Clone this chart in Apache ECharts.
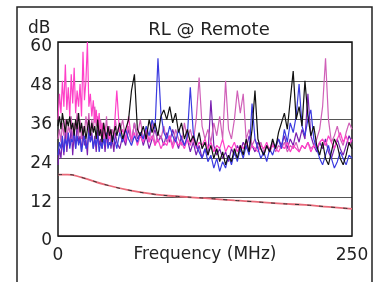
<!DOCTYPE html>
<html>
<head>
<meta charset="utf-8">
<script src="https://cdn.jsdelivr.net/npm/echarts@6/dist/echarts.min.js"></script>
<style>
  html, body { margin: 0; padding: 0; background: #fff; }
  #chart { width: 378px; height: 282px; }
</style>
</head>
<body>
<div id="chart"></div>
<script>
// frequency points (MHz), finer at the low end
const freq = [
  0, 1.25, 2.5, 3.75, 5, 6.25, 7.5, 8.75, 10, 11.25,
  12.5, 13.75, 15, 16.25, 17.5, 18.75, 20, 21.25, 22.5, 23.75,
  25, 26.25, 27.5, 28.75, 30, 31.25, 32.5, 33.75, 35, 36.25,
  37.5, 38.75, 40, 41.25, 42.5, 43.75, 45, 46.25, 47.5, 48.75,
  50,
  52.5, 55, 57.5, 60, 62.5, 65, 67.5, 70, 72.5,
  75, 77.5, 80, 82.5, 85, 87.5, 90, 92.5, 95, 97.5,
  100, 102.5, 105, 107.5, 110, 112.5, 115, 117.5, 120, 122.5,
  125, 127.5, 130, 132.5, 135, 137.5, 140, 142.5, 145, 147.5,
  150, 152.5, 155, 157.5, 160, 162.5, 165, 167.5, 170, 172.5,
  175, 177.5, 180, 182.5, 185, 187.5, 190, 192.5, 195, 197.5,
  200, 202.5, 205, 207.5, 210, 212.5, 215, 217.5, 220, 222.5,
  225, 227.5, 230, 232.5, 235, 237.5, 240, 242.5, 245, 247.5,
  250
];

// return loss traces (dB)
const rlPurple = [
  22, 27, 24, 30, 25, 33, 26, 31, 28, 34,
  25, 32, 27, 35, 29, 31, 26, 33, 28, 30,
  25, 34, 29, 32, 27, 31, 26, 33, 28, 30,
  27, 32, 26, 31, 28, 34, 27, 30, 26, 32,
  29,
  27, 31, 28, 33, 29, 35, 30, 32, 28,
  31, 27, 30, 33, 29, 31, 28, 32, 29, 33,
  30, 27, 31, 28, 30, 26, 29, 25, 28, 24,
  27, 25, 42, 28, 25, 27, 24, 26, 23, 27,
  25, 28, 26, 29, 27, 31, 28, 26, 29, 27,
  25, 28, 26, 29, 27, 30, 28, 31, 27, 30,
  28, 32, 29, 33, 30, 44, 31, 28, 26, 29,
  27, 30, 26, 24, 27, 30, 27, 25, 28, 31,
  29
];
const rlOrchid = [
  30, 33, 29, 35, 31, 36, 30, 34, 32, 37,
  29, 35, 33, 38, 31, 36, 30, 34, 32, 37,
  33, 38, 31, 36, 32, 40, 34, 37, 32, 36,
  30, 35, 31, 37, 30, 34, 29, 33, 31, 36,
  33,
  32, 36, 30, 34, 29, 35, 31, 36, 30,
  33, 29, 35, 28, 32, 30, 34, 29, 31, 28,
  33, 30, 28, 35, 30, 33, 29, 36, 49, 34,
  30, 33, 29, 35, 31, 37, 30, 48, 33, 30,
  36, 45, 38, 44, 30, 33, 28, 30, 27, 29,
  26, 28, 27, 29, 26, 28, 27, 29, 26, 28,
  27, 29, 26, 28, 27, 29, 27, 28, 30, 33,
  40, 55, 36, 29, 31, 34, 30, 28, 32, 35,
  33
];
const rlPink = [
  36, 44, 38, 48, 40, 53, 39, 46, 37, 50,
  41, 52, 38, 45, 40, 47, 37, 57, 42, 48,
  60, 40, 44, 37, 42, 35, 39, 33, 38, 31,
  35, 30, 34, 29, 32, 30, 33, 29, 31, 38,
  45,
  31, 33, 29, 37, 30, 32, 28, 31, 29,
  33, 29, 31, 28, 30, 27, 29, 28, 31, 27,
  30, 28, 29, 27, 30, 28, 31, 27, 29, 28,
  30, 27, 29, 26, 28, 27, 30, 26, 28, 27,
  29, 26, 28, 27, 29, 26, 28, 27, 26, 28,
  27, 29, 26, 28, 27, 26, 28, 27, 29, 26,
  28, 27, 26, 28, 27, 29, 26, 28, 27, 29,
  30, 28, 31, 29, 27, 30, 32, 29, 31, 28,
  30
];
const rlBlue = [
  25, 29, 27, 31, 26, 30, 28, 32, 27, 30,
  29, 33, 27, 31, 28, 30, 26, 29, 31, 27,
  28, 32, 29, 31, 27, 30, 28, 31, 26, 29,
  27, 30, 28, 32, 27, 29, 28, 31, 30, 29,
  27,
  32, 29, 33, 30, 28, 31, 29, 32, 30,
  34, 31, 36, 33, 55, 38, 32, 30, 34, 31,
  29, 33, 30, 28, 31, 46, 32, 28, 26, 24,
  27, 23, 25, 21, 24, 20, 23, 21, 25, 22,
  26, 23, 27, 24, 28, 25, 41, 30, 27, 24,
  26, 23, 27, 25, 28, 30, 27, 33, 29, 35,
  32, 37, 47, 34, 31, 36, 39, 30, 27, 24,
  22, 25, 28, 24, 21, 23, 26, 24, 22, 25,
  24
];
const rlBlack = [
  34, 37, 33, 38, 35, 32, 36, 34, 37, 33,
  35, 31, 36, 33, 38, 32, 35, 31, 34, 30,
  33, 36, 31, 35, 32, 34, 30, 36, 31, 33,
  29, 35, 32, 30, 34, 31, 33, 29, 32, 34,
  31,
  35, 30, 33, 36, 45, 50, 33, 31, 34,
  30, 36, 32, 35, 31, 37, 39, 36, 40, 35,
  38, 32, 35, 30, 33, 29, 31, 28, 32, 27,
  29, 25, 28, 24, 27, 23, 26, 22, 25, 23,
  27, 24, 28, 25, 30, 26, 33, 45, 30, 27,
  25, 28, 26, 30, 27, 32, 35, 38, 33, 42,
  51, 36, 40, 34, 48, 37, 31, 34, 28, 25,
  29, 24, 22, 26, 30, 28, 24, 22, 25, 29,
  27
];

// limit line
const limitFreq = [0, 8, 20, 40, 60, 82, 100, 125, 150, 167, 190, 210, 230, 250];
const limitVal = [19, 19, 18.1, 15.9, 14.2, 12.9, 12.3, 11.7, 11.0, 10.6, 10.0, 9.6, 9.0, 8.4];

const yTicks = [0, 12, 24, 36, 48, 60];

const pairs = (xs, ys) => xs.map((x, i) => [x, ys[i]]);

const chart = echarts.init(document.getElementById('chart'));

const trace = (name, values, color) => ({
  name: name,
  type: 'line',
  data: pairs(freq, values),
  symbol: 'none',
  lineStyle: { color: color, width: 1.2 },
  animation: false
});

chart.setOption({
  backgroundColor: '#fff',
  textStyle: { fontFamily: 'DejaVu Sans' },
  graphic: [
    {
      type: 'rect',
      shape: { x: 17, y: 7, width: 355, height: 290 },
      style: { fill: 'none', stroke: '#222', lineWidth: 1.5 },
      z: -10
    },
    {
      type: 'text',
      left: 28, top: 20,
      style: { text: 'dB', fontSize: 17, fill: '#222', fontFamily: 'DejaVu Sans' }
    }
  ],
  title: {
    text: 'RL @ Remote',
    left: 204,
    top: 16,
    textAlign: 'center',
    textStyle: { fontSize: 18, fontWeight: 'normal', color: '#222', fontFamily: 'DejaVu Sans' }
  },
  grid: { left: 58, right: 26, top: 42, bottom: 46 },
  xAxis: {
    type: 'value',
    min: 0, max: 250, interval: 250,
    name: 'Frequency (MHz)',
    nameLocation: 'middle',
    nameGap: 10,
    nameMoveOverlap: false,
    nameTextStyle: { fontSize: 17, color: '#222', fontFamily: 'DejaVu Sans' },
    axisLine: { show: false },
    axisTick: { show: false },
    splitLine: { show: false },
    axisLabel: { fontSize: 17, color: '#222', margin: 11, fontFamily: 'DejaVu Sans',
      formatter: v => (v === 0 || v === 250) ? String(v) : '' }
  },
  yAxis: {
    type: 'value',
    min: yTicks[0], max: yTicks[yTicks.length - 1], interval: 12,
    axisLine: { show: false },
    axisTick: { show: false },
    splitLine: { show: true, lineStyle: { color: '#555', width: 1.2 } },
    axisLabel: { fontSize: 17, color: '#222', margin: 6, fontFamily: 'DejaVu Sans',
      verticalAlign: 'top', lineHeight: 10 }
  },
  series: [
    trace('Pair 4', rlPurple, '#7a20b0'),
    trace('Pair 3', rlOrchid, '#d060b8'),
    trace('Pair 1', rlPink, '#ff40c8'),
    trace('Pair 2', rlBlue, '#3a3ae0'),
    trace('Pair 5', rlBlack, '#111111'),
    {
      name: 'Limit',
      type: 'line',
      data: pairs(limitFreq, limitVal),
      symbol: 'none',
      smooth: true,
      lineStyle: { color: '#e86878', width: 1.8 },
      animation: false
    },
    {
      name: 'Limit dash',
      type: 'line',
      data: pairs(limitFreq, limitVal),
      symbol: 'none',
      smooth: true,
      lineStyle: { color: '#333', width: 1, type: [4, 8] },
      animation: false,
      markArea: {
        silent: true,
        itemStyle: { color: 'none', borderColor: '#111', borderWidth: 1.5 },
        data: [[{ coord: [0, 0] }, { coord: [250, 60] }]]
      }
    }
  ]
});
</script>
</body>
</html>
